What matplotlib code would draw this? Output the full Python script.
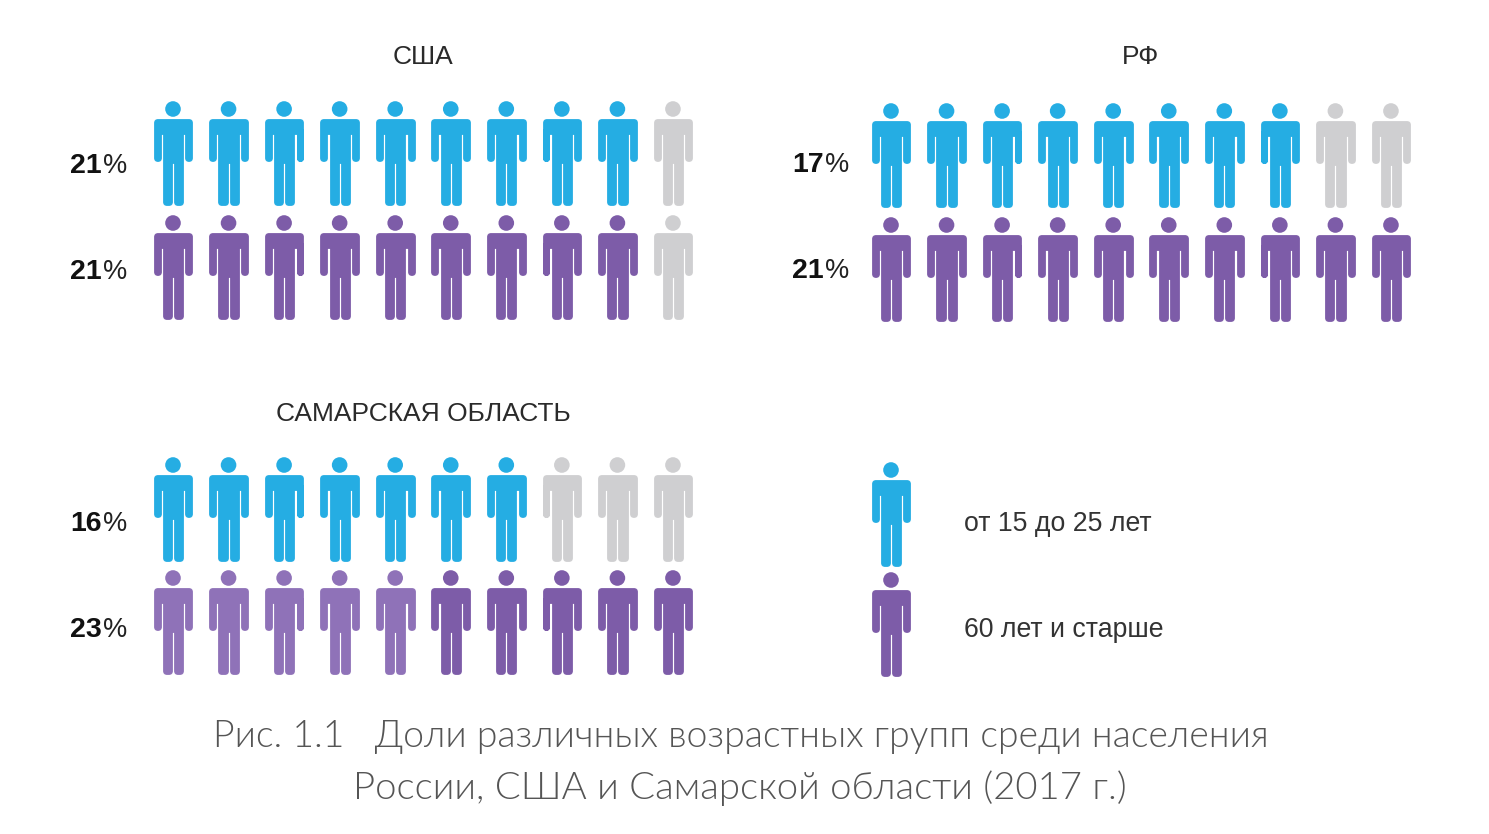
#!/usr/bin/env python3

import matplotlib
matplotlib.use("Agg")
import matplotlib.pyplot as plt
from matplotlib.patches import Circle, PathPatch
from matplotlib.path import Path
from matplotlib.transforms import Affine2D

# Values
panels = ["США", "РФ", "САМАРСКАЯ ОБЛАСТЬ"]
young_pct = ["21", "17", "16"]
old_pct = ["21", "21", "23"]
young_filled = [9, 8, 7]
old_filled = [9, 10, 10]
old_light = [0, 0, 5]
legend_labels = ["от 15 до 25 лет", "60 лет и старше"]
caption_lines = ["Рис. 1.1   Доли различных возрастных групп среди населения",
                 "России, США и Самарской области (2017 г.)"]

BLUE = "#25ade3"
PURPLE = "#7d5ca8"
LIGHT_PURPLE = "#8f72b8"
GREY = "#cfcfd1"
SANS = "Liberation Sans"

fig = plt.figure(figsize=(14.89, 8.34), dpi=100)
ax = fig.add_axes([0, 0, 1, 1])
ax.set_xlim(0, 1489)
ax.set_ylim(834, 0)
ax.axis("off")


def person_path():
    # outline is inset by the stroke radius, the round stroke gives the corners
    half = [(0, 21.4), (16.3, 21.4), (16.3, 56.6), (15.4, 56.6), (15.4, 29.6), (7.1, 29.6),
            (7.1, 100.6), (4.0, 100.6), (4.0, 58.6)]
    left = [(-x, y) for x, y in reversed(half[1:])]
    pts = half + [(0, 58.6)] + left + [(0, 21.4)]
    codes = [Path.MOVETO] + [Path.LINETO] * (len(pts) - 2) + [Path.CLOSEPOLY]
    return Path(pts, codes)


PERSON = person_path()


def draw_person(x, y, color):
    tr = Affine2D().translate(x, y) + ax.transData
    ax.add_patch(PathPatch(PERSON, facecolor=color, edgecolor=color, lw=4.9,
                           joinstyle="round", transform=tr))
    ax.add_patch(Circle((x, y + 8), 7.8, facecolor=color, edgecolor="none"))


def draw_row(x0, y, filled, color, light=0):
    for i in range(10):
        x = x0 + 55.55 * i
        if i < light:
            c = LIGHT_PURPLE
        elif i < filled:
            c = color
        else:
            c = GREY
        draw_person(x, y, c)


def pct_label(x, y, value):
    t = ax.text(x, y, value, fontsize=20.5, fontweight="bold", family=SANS,
                color="#111111", ha="left", va="baseline")
    w = t.get_window_extent(fig.canvas.get_renderer()).width
    ax.text(x + w + 1, y, "%", fontsize=19.5, family=SANS, color="#222222",
            ha="left", va="baseline")


panel_x0 = [173, 891, 173]
panel_cx = [423, 1141, 423]
title_y = [57, 57, 414]
young_y = [101, 103, 457]
old_y = [215, 217, 570]
label_x = [70, 792, 70]
young_lab_y = [173, 172, 531]
old_lab_y = [279, 278, 637]

for k in range(3):
    ax.text(panel_cx[k], title_y[k], panels[k], fontsize=19, family=SANS,
            color="#2a2a2a", ha="center", va="center")
    draw_row(panel_x0[k], young_y[k], young_filled[k], BLUE)
    draw_row(panel_x0[k], old_y[k], old_filled[k], PURPLE, old_light[k])
    pct_label(label_x[k], young_lab_y[k], young_pct[k])
    pct_label(label_x[k], old_lab_y[k], old_pct[k])

# legend
draw_person(891, 462, BLUE)
draw_person(891, 572, PURPLE)
ax.text(964, 524, legend_labels[0], fontsize=19.2, family=SANS, color="#333333",
        ha="left", va="center")
ax.text(964, 630, legend_labels[1], fontsize=19.2, family=SANS, color="#333333",
        ha="left", va="center")

# caption
ax.text(741, 737, caption_lines[0], fontsize=26.9, family="Lato", fontweight=300,
        color="#555555", ha="center", va="center")
ax.text(740, 788, caption_lines[1], fontsize=27.6, family="Lato", fontweight=300,
        color="#555555", ha="center", va="center")

fig.savefig("out.png", dpi=100)
